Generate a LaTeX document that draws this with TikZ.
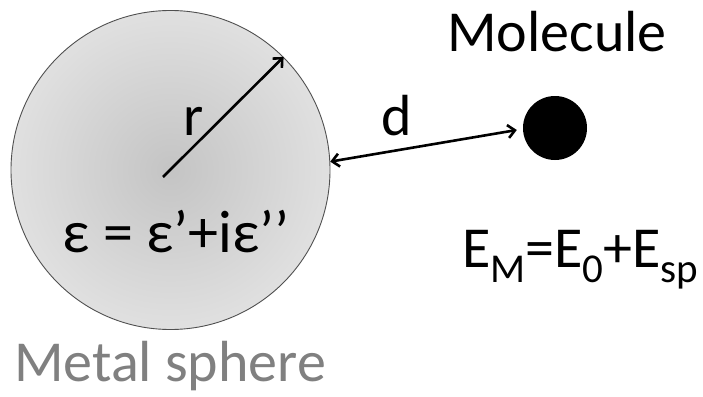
\documentclass[tikz,border=0pt]{standalone}
\usepackage{fontspec}
\setmainfont{Carlito}
\usetikzlibrary{arrows.meta}
\definecolor{labelgray}{RGB}{128,128,128}
\definecolor{spherein}{RGB}{196,196,196}
\definecolor{sphereout}{RGB}{224,224,224}
\definecolor{edgegray}{RGB}{80,80,80}
\tikzset{
  txt/.style={anchor=base west, inner sep=0pt, font=\fontsize{58}{60}\selectfont},
  arr/.style={line width=2.6pt, {Straight Barb[length=7pt,width=13pt,line width=2.6pt]}-{Straight Barb[length=7pt,width=13pt,line width=2.6pt]}},
  arrone/.style={line width=2.6pt, -{Straight Barb[length=7pt,width=13pt,line width=2.6pt]}},
}
\newcommand{\subtxt}[1]{\raisebox{-15pt}{\fontsize{41}{43}\selectfont #1}}
\begin{document}
\begin{tikzpicture}[x=1pt,y=-1pt]
\useasboundingbox (0,0) rectangle (703,396);
\node[circle, draw=edgegray, line width=0.9pt, minimum size=319pt, inner sep=0pt,
      shading=radial, inner color=spherein, outer color=sphereout] (sphere) at (170.5,170) {};
\node[circle, fill=black, minimum size=64pt, inner sep=0pt] (mol) at (555,128) {};
\coordinate (rc) at (163,177);
\draw[arrone] (rc) -- (sphere.45);
\draw[arr] (sphere.3) -- ([xshift=-6pt,yshift=-2pt]mol.west);
\node[txt] (rlab) at (183,135) {r};
\node[txt] (dlab) at (381,135) {d};
\node[txt, font=\fontsize{60}{62}\selectfont] (eps) at (62,252) {ε = ε’+iε’’};
\node[txt] (mollab) at (447,52) {Molecule};
\node[txt] (energy) at (462,267) {E\subtxt{M}=E\subtxt{0}+E\subtxt{sp}};
\node[txt, text=labelgray] (metal) at (14,381) {Metal sphere};
\end{tikzpicture}
\end{document}
